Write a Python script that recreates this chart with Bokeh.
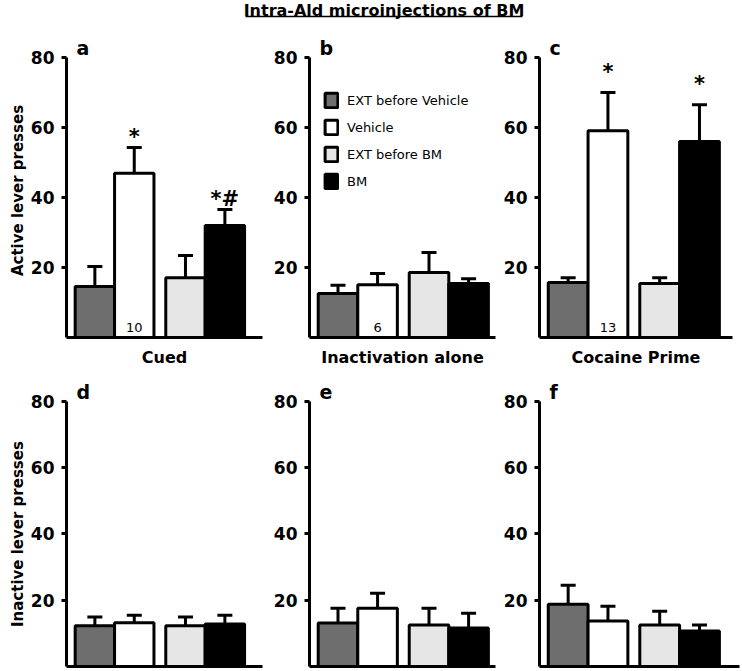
import math
from bokeh.plotting import figure
from bokeh.layouts import column, row
from bokeh.models import (ColumnDataSource, Range1d, FixedTicker, Whisker, TeeHead,
                          Legend, LegendItem, Label)
from bokeh.core.properties import value
from bokeh.embed import file_html
from bokeh.resources import INLINE

# ---------------- data ----------------
title_text = "Intra-Ald microinjections of BM"
groups = ["EXT before Vehicle", "Vehicle", "EXT before BM", "BM"]
group_colors = ["#6e6e6e", "#ffffff", "#e6e6e6", "#000000"]
conditions = ["Cued", "Inactivation alone", "Cocaine Prime"]
panel_letters = ["a", "b", "c", "d", "e", "f"]
yticks = [20, 40, 60, 80]
active_label = "Active lever presses"
inactive_label = "Inactive lever presses"

active_cued_mean = [14.6, 46.9, 17.1, 32.0]
active_cued_sem = [5.7, 7.4, 6.3, 4.6]
active_inact_mean = [12.6, 15.1, 18.6, 15.4]
active_inact_sem = [2.3, 3.2, 5.7, 1.4]
active_coc_mean = [15.7, 59.1, 15.4, 56.0]
active_coc_sem = [1.4, 10.9, 1.7, 10.5]

inactive_cued_mean = [12.3, 13.2, 12.3, 12.8]
inactive_cued_sem = [2.6, 2.3, 2.6, 2.7]
inactive_inact_mean = [13.1, 17.6, 12.5, 11.6]
inactive_inact_sem = [4.5, 4.5, 5.1, 4.5]
inactive_coc_mean = [18.8, 13.7, 12.5, 10.7]
inactive_coc_sem = [5.7, 4.5, 4.2, 1.8]

sig_active_cued = ["", "*", "", "*#"]
sig_active_inact = ["", "", "", ""]
sig_active_coc = ["", "*", "", "*"]

n_vehicle = [10, 6, 13]

# ---------------- style ----------------
FONT_NAME = "DejaVu Sans"
FONT = value(FONT_NAME)
BAR_PX = 40.0
YMAX = 86
SIG_PAD = [3.0, 3.0, 6.0]   # gap (in y units) between whisker cap and marker, per column


def blank_fig(width, height):
    f = figure(width=width, height=height, x_range=Range1d(0, width),
               y_range=Range1d(0, height), output_backend="svg",
               toolbar_location=None, min_border=0,
               x_axis_location=None, y_axis_location=None)
    f.outline_line_color = None
    f.xgrid.visible = False
    f.ygrid.visible = False
    return f


def ylabel_fig(text, width, height, cx, cy_from_top):
    f = blank_fig(width, height)
    f.text(x=[cx], y=[height - cy_from_top], text=[text], angle=math.pi / 2,
           text_font=FONT, text_font_style="bold", text_font_size="15px",
           text_align="center", text_baseline="middle", text_color="black")
    return f


def make_panel(mean, sem, letter, width, height, mbl, mbr, mbt, mbb,
               xlabel=None, sig=None, sig_pad=2.0, n=None, legend=False):
    frame_w = width - mbl - mbr
    xmax = frame_w / BAR_PX
    p = figure(width=width, height=height, x_range=Range1d(0, xmax),
               y_range=Range1d(0, YMAX), output_backend="svg",
               toolbar_location=None, min_border_left=mbl, min_border_right=mbr,
               min_border_top=mbt, min_border_bottom=mbb)
    p.outline_line_color = None
    p.xgrid.visible = False
    p.ygrid.visible = False
    p.background_fill_color = "white"

    xs = [0.72 + i + (i // 2) * 0.3 for i in range(4)]
    upper = [m + s for m, s in zip(mean, sem)]
    src = ColumnDataSource(dict(x=xs, top=mean, lower=mean, upper=upper,
                                color=group_colors))
    w = Whisker(source=src, base="x", lower="lower", upper="upper",
                dimension="height", line_width=3, line_color="black",
                upper_head=TeeHead(size=15, line_width=3, line_color="black"),
                lower_head=None)
    p.add_layout(w)
    r = p.vbar(x="x", top="top", bottom=0, width=1.0, source=src,
               fill_color="color", line_color="black", line_width=3)

    # y axis
    ya = p.yaxis[0]
    ya.ticker = FixedTicker(ticks=yticks)
    ya.bounds = (0, 80)
    ya.axis_line_width = 3
    ya.major_tick_line_width = 3
    ya.major_tick_out = 5
    ya.major_tick_in = 0
    ya.minor_tick_line_color = None
    ya.major_label_standoff = 7
    ya.major_label_text_font = FONT_NAME
    ya.major_label_text_font_style = "bold"
    ya.major_label_text_font_size = "17px"
    ya.major_label_text_color = "black"

    # x axis
    xa = p.xaxis[0]
    xa.ticker = FixedTicker(ticks=[])
    xa.axis_line_width = 3
    xa.major_tick_out = 0
    xa.major_tick_in = 0
    xa.minor_tick_line_color = None
    xa.major_label_standoff = 0
    xa.major_label_text_font_size = "0px"
    if xlabel:
        xa.axis_label = xlabel
        xa.axis_label_standoff = 10
        xa.axis_label_text_font = FONT_NAME
        xa.axis_label_text_font_style = "bold"
        xa.axis_label_text_font_size = "16px"
        xa.axis_label_text_color = "black"

    # panel letter
    p.add_layout(Label(x=10, y=82.7, x_units="screen", y_units="data", text=letter,
                       text_font=FONT_NAME, text_font_style="bold", text_font_size="19px",
                       text_color="black", text_baseline="alphabetic"))

    # significance markers
    if sig:
        sx = [x for x, s in zip(xs, sig) if s]
        sy = [u + sig_pad for u, s in zip(upper, sig) if s]
        st = [s for s in sig if s]
        if st:
            p.text(x=sx, y=sy, text=st, text_font=FONT, text_font_style="bold",
                   text_font_size="21px", text_align="center",
                   text_baseline="alphabetic", text_color="black")

    # n label in vehicle bar
    if n is not None:
        p.text(x=[xs[1]], y=[3], text=[str(n)], text_font=FONT,
               text_font_size="13px", text_align="center",
               text_baseline="alphabetic", text_color="black")

    if legend:
        items = [LegendItem(label=g, renderers=[r], index=i) for i, g in enumerate(groups)]
        lg = Legend(items=items, location=(14, 147), glyph_width=16, glyph_height=18,
                    label_height=18, spacing=9, padding=0, margin=0,
                    border_line_color=None, background_fill_alpha=0,
                    label_standoff=8, label_text_font=FONT_NAME,
                    label_text_font_size="13px", label_text_color="black")
        p.add_layout(lg)
    return p


# geometry
LBL_W = 27
cols = [(243, 36, 8, 8), (230, 37, 5, 5), (242, 38, 10, 3)]
H1, T1, B1 = 344, 6, 37
H2, T2, B2 = 297, 7, 5

active = [(active_cued_mean, active_cued_sem, sig_active_cued),
          (active_inact_mean, active_inact_sem, sig_active_inact),
          (active_coc_mean, active_coc_sem, sig_active_coc)]
inactive = [(inactive_cued_mean, inactive_cued_sem),
            (inactive_inact_mean, inactive_inact_sem),
            (inactive_coc_mean, inactive_coc_sem)]

row1 = [ylabel_fig(active_label, LBL_W, H1, 17, 176)]
for j, ((m, s, sg), (w, l, r1, r2)) in enumerate(zip(active, cols)):
    row1.append(make_panel(m, s, panel_letters[j], w, H1, l, r1, T1, B1,
                           xlabel=conditions[j], sig=sg, sig_pad=SIG_PAD[j],
                           n=n_vehicle[j], legend=(j == 1)))
row2 = [ylabel_fig(inactive_label, LBL_W, H2, 17, 159)]
for j, ((m, s), (w, l, r1, r2)) in enumerate(zip(inactive, cols)):
    row2.append(make_panel(m, s, panel_letters[3 + j], w, H2, l, r2, T2, B2))

# title strip
TW, TH = 742, 30
tf = blank_fig(TW, TH)
tc = 383.5
half = 138.5
tf.text(x=[tc], y=[TH - 10], text=[title_text], text_font=FONT, text_font_style="bold",
        text_font_size="16px", text_align="center", text_baseline="alphabetic",
        text_color="black")
tf.segment(x0=[tc - half], x1=[tc + half], y0=[TH - 16], y1=[TH - 16], line_width=1.5,
           line_color="black")

layout = column(tf, row(*row1), row(*row2))
open("out.html", "w").write(file_html(layout, INLINE, title=title_text))
